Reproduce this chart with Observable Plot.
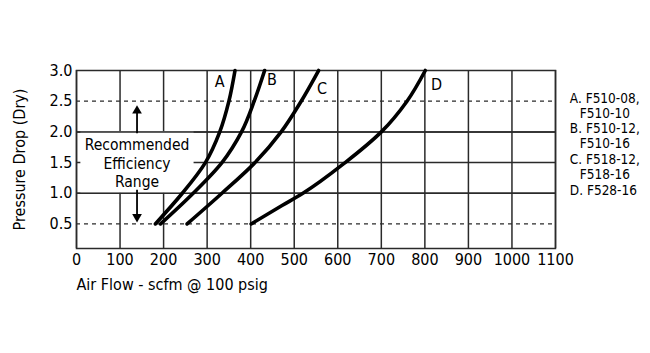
<!DOCTYPE html>
<html>
<head>
<meta charset="utf-8">
<script src="https://cdn.jsdelivr.net/npm/d3@7"></script>
<script src="https://cdn.jsdelivr.net/npm/@observablehq/plot@0.6"></script>
<style>
  html, body { margin: 0; padding: 0; background: #fff; }
  #chart svg { display: block; }
</style>
</head>
<body>
<div id="chart"></div>
<script>
const FONT = "'Liberation Sans Narrow', 'Arial Narrow', 'DejaVu Sans Condensed', sans-serif";

// Axis ticks
const flowTicks = [0, 100, 200, 300, 400, 500, 600, 700, 800, 900, 1000, 1100];
const pressureTicks = [0.5, 1.0, 1.5, 2.0, 2.5, 3.0];
const solidLevels = [1.0, 1.5, 2.0];
const dashedLevels = [0.5, 2.5];

// Curves: [air flow (scfm), pressure drop]
const curveA = [[181, 0.5], [243, 1.0], [296, 1.5], [329, 2.0], [350, 2.5], [364, 3.0]];
const curveB = [[193, 0.5], [268, 1.0], [334, 1.5], [379, 2.0], [408, 2.5], [432, 3.0]];
const curveC = [[254, 0.5], [334, 1.0], [410, 1.5], [470, 2.0], [516, 2.5], [556, 3.0]];
const curveD = [[401, 0.5], [472, 0.8], [520, 1.0], [617, 1.5], [700, 2.0], [759, 2.5], [801, 3.0]];

const curveLabels = [
  {label: "A", x: 329, y: 2.81},
  {label: "B", x: 449, y: 2.84},
  {label: "C", x: 564, y: 2.70},
  {label: "D", x: 827, y: 2.76}
];

// Legend (right side)
const legendFirst = ["A. F510-08,", "B. F510-12,", "C. F518-12,", "D. F528-16"];
const legendSecond = ["F510-10", "F510-16", "F518-16", ""];
const legendLevels = [2.5, 2.0, 1.5, 1.0];
const legendX = 1133;

// Recommended range annotation
const rangeText = "Recommended\nEfficiency\nRange";
const rangeX = 139;
const rangeBox = [{x1: 10, x2: 270, y1: 1.0, y2: 2.0}];
const arrowUp = {x: 139, from: 1.97, to: 2.36};
const arrowDown = {x: 139, from: 1.05, to: 0.6};

const series = [
  {name: "A", pts: curveA},
  {name: "B", pts: curveB},
  {name: "C", pts: curveC},
  {name: "D", pts: curveD}
];
const curveData = series.flatMap(s => s.pts.map(([x, y]) => ({series: s.name, x, y})));

const legendData = legendFirst.map((t, i) => ({first: t, second: legendSecond[i], y: legendLevels[i]}));

const gridColor = "#2a2a2a";

const chart = Plot.plot({
  width: 650,
  height: 353,
  marginLeft: 76,
  marginRight: 95,
  marginTop: 70,
  marginBottom: 105,
  style: {fontFamily: FONT, fontSize: "16px", color: "#111", background: "#fff"},
  x: {domain: [0, 1100], axis: null},
  y: {domain: [0.1, 3.0], axis: null},
  marks: [
    Plot.ruleX(flowTicks, {stroke: gridColor, strokeWidth: 1.5}),
    Plot.ruleY(solidLevels, {x1: 0, x2: 1100, stroke: gridColor, strokeWidth: 1.5}),
    Plot.rect(rangeBox, {x1: "x1", x2: "x2", y1: "y1", y2: "y2", fill: "white", inset: 0}),
    Plot.ruleY([1.0, 2.0], {x1: 0, x2: 1100, stroke: gridColor, strokeWidth: 1.5}),
    Plot.ruleY(dashedLevels, {x1: 0, x2: 1100, stroke: gridColor, strokeWidth: 1.3, strokeDasharray: "4,4"}),
    Plot.frame({stroke: gridColor, strokeWidth: 1.5}),
    Plot.line(curveData, {x: "x", y: "y", z: "series", stroke: "black", strokeWidth: 3.6, curve: "monotone-y"}),
    Plot.text(curveLabels, {x: "x", y: "y", text: "label", fontSize: 16, fill: "black"}),
    Plot.text([rangeText], {x: rangeX, y: 1.5, text: d => d, fontSize: 15.5, lineHeight: 1.2, fill: "black", lineAnchor: "middle"}),
    Plot.ruleX([arrowUp], {x: "x", y1: "from", y2: "to", stroke: "black", strokeWidth: 1.8}),
    Plot.dot([arrowUp], {x: "x", y: "to", symbol: "triangle", r: 3.6, fill: "black", stroke: "none", dy: 1}),
    Plot.ruleX([arrowDown], {x: "x", y1: "from", y2: "to", stroke: "black", strokeWidth: 1.8}),
    Plot.dot([arrowDown], {x: "x", y: "to", symbol: "triangle", r: 3.6, fill: "black", stroke: "none", rotate: 180, dy: -1}),
    Plot.text(flowTicks, {x: d => d, frameAnchor: "bottom", dy: 16, text: d => String(d), fontSize: 16, fill: "black"}),
    Plot.text(pressureTicks, {y: d => d, frameAnchor: "left", dx: -4, textAnchor: "end", text: d => d.toFixed(1), fontSize: 16, fill: "black"}),
    Plot.text(["Air Flow - scfm @ 100 psig"], {frameAnchor: "bottom-left", dy: 41, textAnchor: "start", text: d => d, fontSize: 16, fill: "black"}),
    Plot.text(["Pressure Drop (Dry)"], {frameAnchor: "left", dx: -57, rotate: -90, textAnchor: "middle", text: d => d, fontSize: 16, fill: "black"}),
    Plot.text(legendData, {x: legendX, y: "y", text: "first", textAnchor: "start", dy: -3, fontSize: 13.5, fill: "black"}),
    Plot.text(legendData, {x: legendX, y: "y", text: "second", textAnchor: "start", dx: 10, dy: 12, fontSize: 13.5, fill: "black"})
  ]
});

document.getElementById("chart").appendChild(chart);
</script>
</body>
</html>
